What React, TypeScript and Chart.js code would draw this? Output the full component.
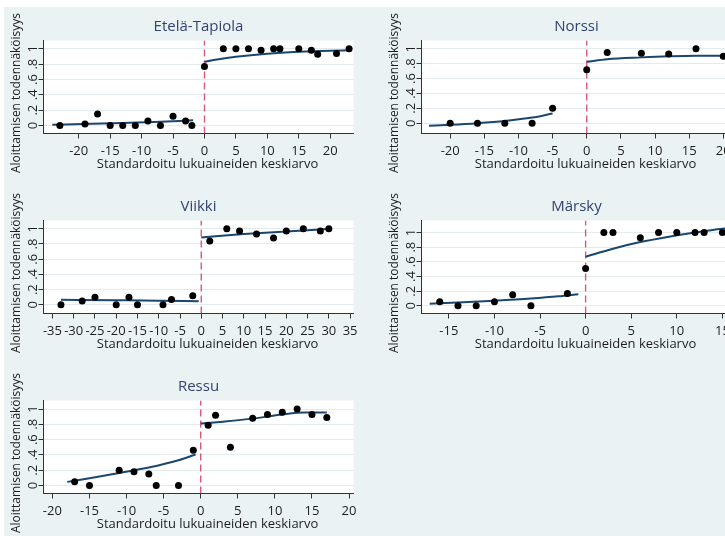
import React, { useEffect, useRef } from "react";
import { Chart, registerables } from "chart.js";

Chart.register(...registerables);

// ---------- shared labels ----------
const Y_TICKS = [0, 0.2, 0.4, 0.6, 0.8, 1];
const Y_TICK_LABELS = ["0", ".2", ".4", ".6", ".8", "1"];
const X_TITLE = "Standardoitu lukuaineiden keskiarvo";
const Y_TITLE = "Aloittamisen todennäköisyys";

// ---------- Etelä-Tapiola ----------
const etelaTitle = "Etelä-Tapiola";
const etelaX = [-23, -19, -17, -15, -13, -11, -9, -7, -5, -3, -2, 0, 3, 5, 7, 9, 11, 12, 15, 17, 18, 21, 23];
const etelaY = [0, 0.02, 0.15, 0, 0, 0, 0.06, 0, 0.12, 0.06, 0, 0.77, 1, 1, 1, 0.98, 1, 1, 1, 0.98, 0.93, 0.94, 1];
const etelaFitLX = [-24.2, -18, -13, -8, -4, -1.8];
const etelaFitLY = [0.01, 0.022, 0.033, 0.045, 0.058, 0.068];
const etelaFitRX = [0, 2, 5, 10, 15, 20, 23];
const etelaFitRY = [0.83, 0.86, 0.895, 0.935, 0.96, 0.975, 0.98];
const etelaXTicks = [-20, -15, -10, -5, 0, 5, 10, 15, 20];

// ---------- Norssi ----------
const norssiTitle = "Norssi";
const norssiX = [-20, -16, -12, -8, -5, 0, 3, 8, 12, 16, 20];
const norssiY = [0, 0, 0, 0, 0.2, 0.72, 0.95, 0.94, 0.93, 1, 0.9];
const norssiFitLX = [-23.1, -20, -16, -12, -8, -5];
const norssiFitLY = [-0.035, -0.022, 0.0, 0.03, 0.075, 0.13];
const norssiFitRX = [0, 3, 8, 12, 16, 20];
const norssiFitRY = [0.825, 0.86, 0.885, 0.9, 0.908, 0.908];
const norssiXTicks = [-20, -15, -10, -5, 0, 5, 10, 15, 20];

// ---------- Viikki ----------
const viikkiTitle = "Viikki";
const viikkiX = [-33, -28, -25, -20, -17, -15, -9, -7, -2, 2, 6, 9, 13, 17, 20, 24, 28, 30];
const viikkiY = [0, 0.05, 0.1, 0, 0.1, 0, 0, 0.07, 0.12, 0.84, 1, 0.97, 0.93, 0.88, 0.97, 1, 0.97, 1];
const viikkiFitLX = [-33, -20, -10, -0.6];
const viikkiFitLY = [0.066, 0.06, 0.055, 0.048];
const viikkiFitRX = [0, 10, 20, 30.3];
const viikkiFitRY = [0.886, 0.93, 0.965, 1.0];
const viikkiXTicks = [-35, -30, -25, -20, -15, -10, -5, 0, 5, 10, 15, 20, 25, 30, 35];

// ---------- Märsky ----------
const marskyTitle = "Märsky";
const marskyX = [-16, -14, -12, -10, -8, -6, -2, 0, 2, 3, 6, 8, 10, 12, 13, 15];
const marskyY = [0.055, 0, 0, 0.055, 0.15, 0, 0.17, 0.51, 1, 1, 0.93, 1, 1, 1, 1, 1];
const marskyFitLX = [-17.1, -14, -10, -6, -3, -0.8];
const marskyFitLY = [0.03, 0.045, 0.07, 0.1, 0.13, 0.16];
const marskyFitRX = [0, 3, 6, 9, 12, 15, 16];
const marskyFitRY = [0.67, 0.78, 0.87, 0.94, 1.0, 1.05, 1.06];
const marskyXTicks = [-15, -10, -5, 0, 5, 10, 15];

// ---------- Ressu ----------
const ressuTitle = "Ressu";
const ressuX = [-17, -15, -11, -9, -7, -6, -3, -1, 1, 2, 4, 7, 9, 11, 13, 15, 17];
const ressuY = [0.05, 0, 0.2, 0.18, 0.15, 0, 0, 0.46, 0.79, 0.92, 0.5, 0.88, 0.93, 0.96, 1, 0.93, 0.89];
const ressuFitLX = [-18, -15, -11, -7, -3, -0.7];
const ressuFitLY = [0.048, 0.095, 0.165, 0.235, 0.33, 0.405];
const ressuFitRX = [0, 3, 7, 11, 14, 17];
const ressuFitRY = [0.81, 0.835, 0.875, 0.93, 0.955, 0.955];
const ressuXTicks = [-20, -15, -10, -5, 0, 5, 10, 15, 20];

// ---------- styling ----------
const FONT = "'Open Sans', 'Noto Sans', sans-serif";
const BG = "#EAF2F3";
const GRID = "#E3EBEE";
const AXIS = "#333333";
const TEXT = "#1e1e1e";
const TITLE_COLOR = "#334272";
const FIT_COLOR = "#1A476F";
const CUT_COLOR = "#D9587A";

const CW = 378;
const CH = 180;
const PLOT_LEFT = 43.5;
const PLOT_RIGHT = 353.5;
const PLOT_TOP = 40.5;
const PLOT_BOTTOM = 133.5;

type PanelDef = {
  title: string;
  px: number[];
  py: number[];
  flx: number[];
  fly: number[];
  frx: number[];
  fry: number[];
  xTicks: number[];
  xMin: number;
  xMax: number;
  yMin: number;
  yMax: number;
  left: number;
  top: number;
};

const panels: PanelDef[] = [
  { title: etelaTitle, px: etelaX, py: etelaY, flx: etelaFitLX, fly: etelaFitLY, frx: etelaFitRX, fry: etelaFitRY, xTicks: etelaXTicks, xMin: -25.6, xMax: 23.7, yMin: -0.104, yMax: 1.108, left: 0, top: 0 },
  { title: norssiTitle, px: norssiX, py: norssiY, flx: norssiFitLX, fly: norssiFitLY, frx: norssiFitRX, fry: norssiFitRY, xTicks: norssiXTicks, xMin: -24.2, xMax: 21.2, yMin: -0.139, yMax: 1.112, left: 378, top: 0 },
  { title: viikkiTitle, px: viikkiX, py: viikkiY, flx: viikkiFitLX, fly: viikkiFitLY, frx: viikkiFitRX, fry: viikkiFitRY, xTicks: viikkiXTicks, xMin: -37.1, xMax: 35.8, yMin: -0.114, yMax: 1.109, left: 0, top: 180 },
  { title: marskyTitle, px: marskyX, py: marskyY, flx: marskyFitLX, fly: marskyFitLY, frx: marskyFitRX, fry: marskyFitRY, xTicks: marskyXTicks, xMin: -18.0, xMax: 16.0, yMin: -0.104, yMax: 1.164, left: 378, top: 180 },
  { title: ressuTitle, px: ressuX, py: ressuY, flx: ressuFitLX, fly: ressuFitLY, frx: ressuFitRX, fry: ressuFitRY, xTicks: ressuXTicks, xMin: -21.2, xMax: 20.6, yMin: -0.104, yMax: 1.112, left: 0, top: 360 },
];

const zip = (xs: number[], ys: number[]) => xs.map((x, i) => ({ x, y: ys[i] }));

const plotBgPlugin = {
  id: "plotBg",
  beforeDraw(chart: any) {
    const { ctx, chartArea } = chart;
    ctx.save();
    ctx.fillStyle = "#ffffff";
    ctx.fillRect(chartArea.left, chartArea.top, chartArea.right - chartArea.left, chartArea.bottom - chartArea.top);
    ctx.restore();
  },
};

const axisTitlePlugin = {
  id: "axisTitles",
  afterDraw(chart: any) {
    const { ctx, chartArea } = chart;
    ctx.save();
    ctx.fillStyle = TEXT;
    ctx.textAlign = "center";
    ctx.textBaseline = "middle";
    ctx.font = `13px ${FONT}`;
    ctx.fillText(X_TITLE, (chartArea.left + chartArea.right) / 2 + 9, 164);
    ctx.translate(16.3, (chartArea.top + chartArea.bottom) / 2 + 6);
    ctx.rotate(-Math.PI / 2);
    ctx.font = `12px ${FONT}`;
    ctx.fillText(Y_TITLE, 0, 0);
    ctx.restore();
  },
};

function buildConfig(p: PanelDef): any {
  return {
    type: "scatter",
    data: {
      datasets: [
        {
          data: zip(p.px, p.py),
          pointRadius: 3.5,
          pointBackgroundColor: "#000000",
          pointBorderWidth: 0,
          showLine: false,
          order: 0,
        },
        {
          data: zip(p.flx, p.fly),
          showLine: true,
          pointRadius: 0,
          borderColor: FIT_COLOR,
          borderWidth: 2,
          cubicInterpolationMode: "monotone",
          order: 1,
        },
        {
          data: zip(p.frx, p.fry),
          showLine: true,
          pointRadius: 0,
          borderColor: FIT_COLOR,
          borderWidth: 2,
          cubicInterpolationMode: "monotone",
          order: 1,
        },
        {
          data: [
            { x: 0, y: p.yMin },
            { x: 0, y: p.yMax },
          ],
          showLine: true,
          pointRadius: 0,
          borderColor: CUT_COLOR,
          borderWidth: 1.4,
          borderDash: [7, 4],
          order: 2,
        },
      ],
    },
    options: {
      animation: false,
      responsive: false,
      events: [],
      layout: { padding: { left: 0, top: 0, right: CW - PLOT_RIGHT, bottom: 0 } },
      plugins: {
        legend: { display: false },
        tooltip: { enabled: false },
        title: {
          display: true,
          text: p.title,
          color: TITLE_COLOR,
          fullSize: false,
          font: { family: FONT, size: 15, weight: "normal" },
          padding: { top: 17.7, bottom: PLOT_TOP - 17.7 - 18 },
        },
      },
      scales: {
        x: {
          type: "linear",
          position: "bottom",
          min: p.xMin,
          max: p.xMax,
          afterBuildTicks: (s: any) => {
            s.ticks = p.xTicks.map((v) => ({ value: v }));
          },
          afterFit: (s: any) => {
            s.height = CH - PLOT_BOTTOM;
          },
          ticks: {
            autoSkip: false,
            minRotation: 0,
            maxRotation: 0,
            padding: 5,
            color: TEXT,
            font: { family: FONT, size: 13 },
            callback: (_v: any, i: number) => String(p.xTicks[i]),
          },
          grid: { drawOnChartArea: false, tickLength: 5, tickColor: AXIS, color: AXIS },
          border: { display: true, color: AXIS, width: 1 },
        },
        y: {
          type: "linear",
          min: p.yMin,
          max: p.yMax,
          afterBuildTicks: (s: any) => {
            s.ticks = Y_TICKS.map((v) => ({ value: v }));
          },
          afterFit: (s: any) => {
            s.width = PLOT_LEFT;
          },
          ticks: {
            autoSkip: false,
            minRotation: 90,
            maxRotation: 90,
            crossAlign: "center",
            padding: 0,
            color: TEXT,
            font: { family: FONT, size: 13 },
            callback: (_v: any, i: number) => Y_TICK_LABELS[i],
          },
          grid: { color: GRID, lineWidth: 1, tickLength: 5, tickColor: AXIS },
          border: { display: true, color: AXIS, width: 1 },
        },
      },
    },
    plugins: [plotBgPlugin, axisTitlePlugin],
  };
}

function Panel({ def }: { def: PanelDef }) {
  const ref = useRef<HTMLCanvasElement>(null);
  useEffect(() => {
    const chart = new Chart(ref.current as HTMLCanvasElement, buildConfig(def));
    return () => chart.destroy();
  }, [def]);
  return (
    <canvas
      ref={ref}
      width={CW}
      height={CH}
      style={{ position: "absolute", left: def.left, top: def.top, width: CW, height: CH }}
    />
  );
}

export default function App() {
  return (
    <div
      style={{
        position: "absolute",
        left: 0,
        top: 0,
        width: 725,
        height: 536,
        overflow: "hidden",
        background: "#ffffff",
      }}
    >
      <div style={{ position: "absolute", left: 4, top: 7, right: 0, bottom: 0, background: BG }} />
      {panels.map((p) => (
        <Panel key={p.title} def={p} />
      ))}
    </div>
  );
}
